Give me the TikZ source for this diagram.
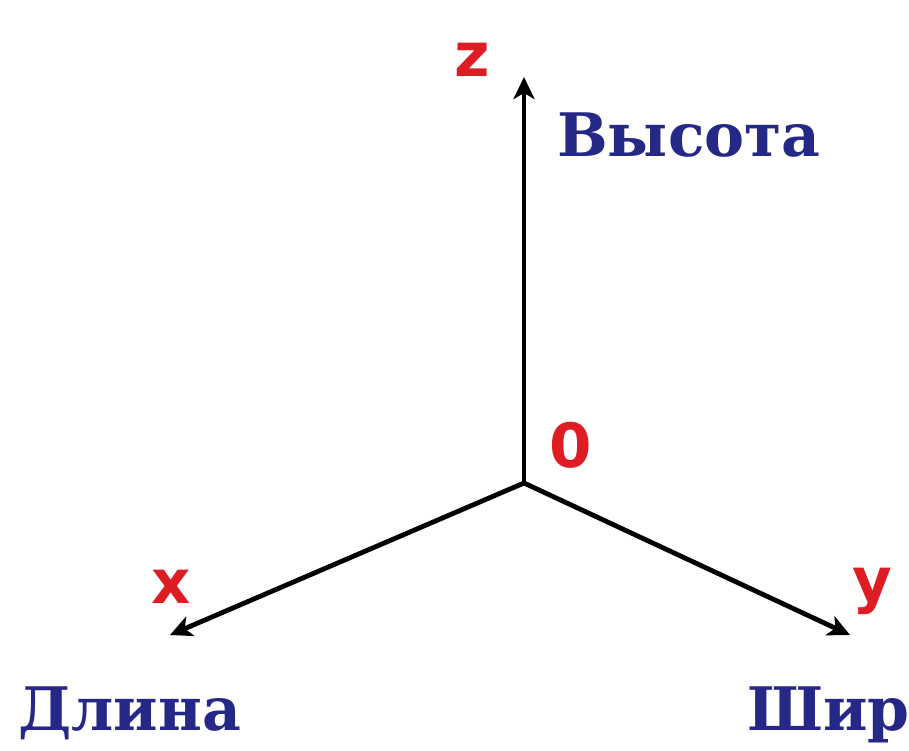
\documentclass[tikz,border=0pt]{standalone}
\usepackage{fontspec}
\setmainfont{DejaVu Serif}
\newfontfamily\lblfont{DejaVu Sans}
\usetikzlibrary{arrows.meta}
\definecolor{axred}{RGB}{222,28,36}
\definecolor{axblue}{RGB}{38,40,135}
\begin{document}
\begin{tikzpicture}[x=1pt,y=-1pt,
  axis/.style={line width=4.8pt,-{Stealth[length=22pt,width=21pt,inset=6pt]}},
  axlbl/.style={text=axred,font=\lblfont\bfseries\fontsize{61}{61}\selectfont,inner sep=0pt,anchor=base},
  namelbl/.style={text=axblue,font=\bfseries\fontsize{60}{60}\selectfont,inner sep=0pt,anchor=base west}]
\useasboundingbox (0,0) rectangle (909,751);
\coordinate (O) at (524,483);
\coordinate (Z) at (524,77);
\coordinate (X) at (170,635);
\coordinate (Y) at (850,635);
\draw[axis] (O) -- (Z);
\draw[axis] (O) -- (X);
\draw[axis] (O) -- (Y);
\node[axlbl] (zl) at (472,77) {z};
\node[axlbl] (ol) at (571,467) {0};
\node[axlbl] (xl) at (171,603) {x};
\node[axlbl] (yl) at (872,601) {y};
\node[namelbl] (hl) at (557,157) {Высота};
\node[namelbl] (ll) at (18,730) {Длина};
\node[namelbl] (wl) at (747,730) {Шир};
\end{tikzpicture}
\end{document}
